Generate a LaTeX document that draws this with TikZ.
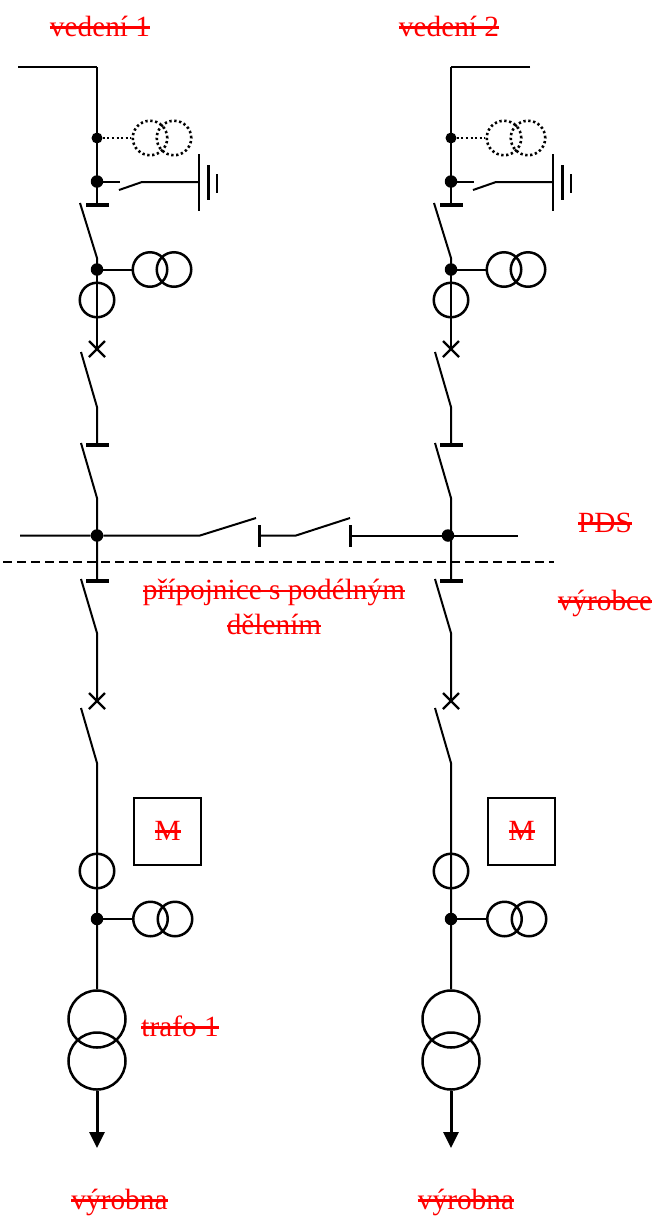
\documentclass[tikz,border=0pt]{standalone}
\usepackage{fontspec}
\setmainfont{Liberation Serif}
\usetikzlibrary{arrows.meta}
\newcommand{\strk}[1]{\setbox0\hbox{#1}\rlap{\rule[0.25em]{\wd0}{0.075em}}\box0}
\tikzset{
  wire/.style={line width=2pt,black},
  ring/.style={circle,draw=black,line width=2.5pt,inner sep=0pt,minimum size=34.5pt},
  ringdot/.style={circle,draw=black,line width=2.6pt,inner sep=0pt,minimum size=34.5pt,dash pattern=on 2.3pt off 2.6pt},
  bigring/.style={circle,draw=black,line width=2.5pt,inner sep=0pt,minimum size=57pt},
  junction/.style={circle,fill=black,inner sep=0pt,minimum size=12.5pt},
  smalldot/.style={circle,fill=black,inner sep=0pt,minimum size=11pt},
  bar/.style={line width=4pt},
  dotwire/.style={line width=2pt,dash pattern=on 2pt off 2.6pt},
  breaker/.style={line width=2.2pt},
  lbl/.style={text=red,font=\fontsize{29.3}{35}\selectfont,anchor=base,inner sep=0pt},
  mbox/.style={draw=black,line width=2pt,minimum size=67pt,inner sep=0pt}
}
\begin{document}
\begin{tikzpicture}[x=1pt,y=-1pt]
\useasboundingbox (0,0) rectangle (655,1216);
\foreach \c/\x/\o in {L/97/0,R/451/354}{
  % named points of one bay
  \coordinate (\c top) at (\x,67);
  \node[smalldot] (\c d1) at (\x,138) {};
  \node[ringdot] (\c vt1) at (\x+53,138) {};
  \node[ringdot] (\c vt2) at (\x+77,138) {};
  \node[junction] (\c d2) at (\x,181.5) {};
  \coordinate (\c es1) at (\x+23,181.5);
  \coordinate (\c es2) at (\x+22,190);
  \coordinate (\c es3) at (\x+45,182);
  \coordinate (\c gnd) at (\x+102,182);
  \coordinate (\c b1) at (\x,205);
  \coordinate (\c s1a) at (\x-17,203);
  \coordinate (\c s1b) at (\x,258);
  \node[junction] (\c d3) at (\x,269.5) {};
  \node[ring] (\c t1) at (\x+53,269.5) {};
  \node[ring] (\c t2) at (\x+77,269.5) {};
  \node[ring] (\c ct1) at (\x,300) {};
  \coordinate (\c x1) at (\x,349);
  \coordinate (\c s2a) at (\x-16,352);
  \coordinate (\c s2b) at (\x,407);
  \coordinate (\c b2) at (\x,445);
  \coordinate (\c s3a) at (\x-16,443);
  \coordinate (\c s3b) at (\x,498);
  \coordinate (\c bus) at (\x,535);
  \coordinate (\c b3) at (\x,581);
  \coordinate (\c s4a) at (\x-16,579);
  \coordinate (\c s4b) at (\x,633);
  \coordinate (\c x2) at (\x,701);
  \coordinate (\c s5a) at (\x-16,708);
  \coordinate (\c s5b) at (\x,763);
  \node[mbox] (\c m) at (\x+70.7,831.5) {};
  \node[lbl] (\c mt) at (\x+70.7,840) {\strk{M}};
  \node[ring] (\c ct2) at (\x,871) {};
  \node[junction] (\c d4) at (\x,919) {};
  \node[ring] (\c t3) at (\x+53.5,919) {};
  \node[ring] (\c t4) at (\x+78,919) {};
  \node[bigring] (\c p1) at (\x,1019) {};
  \node[bigring] (\c p2) at (\x,1061) {};
  \coordinate (\c tip) at (\x,1148);
  % connectors
  \draw[wire] (\c top) -- (\c b1);
  \draw[dotwire] (\c d1) -- (\c vt1);
  \draw[wire] (\c d2.center) -- (\c es1);
  \draw[wire] (\c es2) -- (\c es3) -- (\c gnd);
  \draw[line width=2.2pt] (\x+102,154) -- (\x+102,211);
  \draw[line width=2.2pt] (\x+111.5,165) -- (\x+111.5,200);
  \draw[line width=2.2pt] (\x+120,174) -- (\x+120,193);
  \draw[bar] ([xshift=-11pt]\c b1) -- ([xshift=12pt]\c b1);
  \draw[wire] (\c s1a) -- (\c s1b) -- (\c d3.center);
  \draw[wire] (\c d3) -- (\c t1);
  \draw[wire] (\c d3.center) -- (\c x1);
  \draw[breaker] ([shift={(-8,-8)}]\c x1) -- ([shift={(8,8)}]\c x1);
  \draw[breaker] ([shift={(8,-8)}]\c x1) -- ([shift={(-8,8)}]\c x1);
  \draw[wire] (\c s2a) -- (\c s2b) -- (\c b2);
  \draw[bar] ([xshift=-11pt]\c b2) -- ([xshift=12pt]\c b2);
  \draw[wire] (\c s3a) -- (\c s3b) -- (\c b3);
  \draw[bar] ([xshift=-11pt]\c b3) -- ([xshift=12pt]\c b3);
  \draw[wire] (\c s4a) -- (\c s4b) -- (\c x2);
  \draw[breaker] ([shift={(-8,-8)}]\c x2) -- ([shift={(8,8)}]\c x2);
  \draw[breaker] ([shift={(8,-8)}]\c x2) -- ([shift={(-8,8)}]\c x2);
  \draw[wire] (\c s5a) -- (\c s5b) -- (\c p1);
  \draw[wire] (\c d4) -- (\c t3);
  \draw[line width=3pt,-{Triangle[length=16pt,width=15pt]}] (\c p2) -- (\c tip);
}
% line ends
\coordinate (Lfeed) at (18,67);
\coordinate (Rfeed) at (530,67);
\draw[wire] (Lfeed) -- (Ltop);
\draw[wire] (Rfeed) -- (Rtop);
% busbar
\coordinate (busW) at (20,535.5);
\coordinate (busE) at (518,535.5);
\coordinate (q1a) at (200,535.5);
\coordinate (q1b) at (256,518);
\coordinate (q1c) at (259,535.5);
\coordinate (q2a) at (296,535.5);
\coordinate (q2b) at (350,518);
\coordinate (q2c) at (350,535.5);
\node[junction] (busL) at (97,535.5) {};
\node[junction] (busR) at (448,535.5) {};
\draw[wire] (busW) -- (busL) -- (q1a) -- (q1b);
\draw[wire] (q1c) -- (q2a) -- (q2b);
\draw[wire] (q2c) -- (busR) -- (busE);
\draw[line width=3pt] (259,525) -- (259,547);
\draw[line width=3pt] (350.5,525) -- (350.5,547);
% boundary
\coordinate (bndW) at (3,562);
\coordinate (bndE) at (554,562);
\draw[line width=1.7pt,dash pattern=on 9pt off 5pt] (bndW) -- (bndE);
% labels
\node[lbl] (v1) at (100,36) {\strk{vedení 1}};
\node[lbl] (v2) at (449,36) {\strk{vedení 2}};
\node[lbl] (pds) at (605,532) {\strk{PDS}};
\node[lbl] (vyr) at (605,610) {\strk{výrobce}};
\node[lbl,align=center,anchor=center] (prip) at (274,607) {\strk{přípojnice s podélným}\\\strk{dělením}};
\node[lbl] (tr) at (180,1036) {\strk{trafo 1}};
\node[lbl] (o1) at (119.5,1209) {\strk{výrobna}};
\node[lbl] (o2) at (466,1209) {\strk{výrobna}};
\end{tikzpicture}
\end{document}
